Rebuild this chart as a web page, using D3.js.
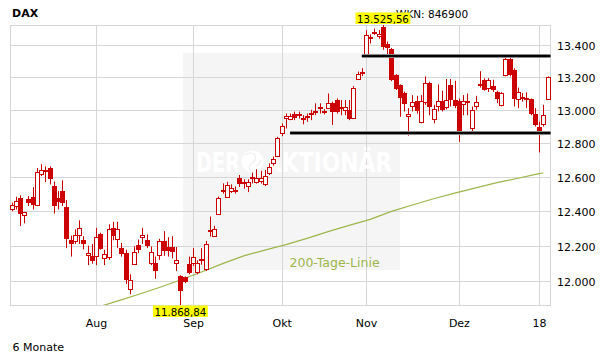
<!DOCTYPE html>
<html><head><meta charset="utf-8">
<script src="https://cdn.jsdelivr.net/npm/d3@7"></script>
<style>body{margin:0;background:#fff;}svg{display:block;}</style>
</head><body>
<svg id="c" width="611" height="364"></svg>
<script>
const dates = [
"2017-07-04","2017-07-05","2017-07-06","2017-07-07","2017-07-10","2017-07-11","2017-07-12","2017-07-13","2017-07-14","2017-07-17",
"2017-07-18","2017-07-19","2017-07-20","2017-07-21","2017-07-24","2017-07-25","2017-07-26","2017-07-27","2017-07-28","2017-07-31",
"2017-08-01","2017-08-02","2017-08-03","2017-08-04","2017-08-07","2017-08-08","2017-08-09","2017-08-10","2017-08-11","2017-08-14",
"2017-08-15","2017-08-16","2017-08-17","2017-08-18","2017-08-21","2017-08-22","2017-08-23","2017-08-24","2017-08-25","2017-08-28",
"2017-08-29","2017-08-30","2017-08-31","2017-09-01","2017-09-04","2017-09-05","2017-09-06","2017-09-07","2017-09-08","2017-09-11",
"2017-09-12","2017-09-13","2017-09-14","2017-09-15","2017-09-18","2017-09-19","2017-09-20","2017-09-21","2017-09-22","2017-09-25",
"2017-09-26","2017-09-27","2017-09-28","2017-09-29","2017-10-02","2017-10-04","2017-10-05","2017-10-06","2017-10-09","2017-10-10",
"2017-10-11","2017-10-12","2017-10-13","2017-10-16","2017-10-17","2017-10-18","2017-10-19","2017-10-20","2017-10-23","2017-10-24",
"2017-10-25","2017-10-26","2017-10-27","2017-10-30","2017-11-01","2017-11-02","2017-11-03","2017-11-06","2017-11-07","2017-11-08",
"2017-11-09","2017-11-10","2017-11-13","2017-11-14","2017-11-15","2017-11-16","2017-11-17","2017-11-20","2017-11-21","2017-11-22",
"2017-11-23","2017-11-24","2017-11-27","2017-11-28","2017-11-29","2017-11-30","2017-12-01","2017-12-04","2017-12-05","2017-12-06",
"2017-12-07","2017-12-08","2017-12-11","2017-12-12","2017-12-13","2017-12-14","2017-12-15","2017-12-18","2017-12-19","2017-12-20",
"2017-12-21","2017-12-22","2017-12-27","2017-12-28","2017-12-29","2018-01-02","2018-01-03","2018-01-04"];

const openV = [
12414,12430,12478,12380,12469,12484,12436,12617,12640,12654,
12544,12474,12519,12426,12233,12231,12264,12233,12148,12144,
12146,12270,12131,12135,12304,12240,12188,12160,11957,12098,
12206,12252,12237,12101,12101,12150,12227,12196,12196,12101,
12028,12024,12097,12101,12052,12126,12069,12287,12260,12383,
12526,12484,12518,12522,12595,12571,12549,12597,12569,12577,
12556,12625,12681,12723,12862,12952,12948,12978,12974,12954,
12966,12982,12995,13018,12995,13011,13040,13060,13015,12997,
13001,12954,13188,13232,13342,13449,13473,13457,13513,13404,
13377,13215,13152,13102,12962,13023,13054,12929,13046,13166,
12943,13025,13056,13015,13152,13060,13054,13036,13054,12893,
13025,13158,13184,13132,13146,13109,13027,13211,13312,13245,
13066,13076,13070,13066,12978,12899,12913,13066];

const highV = [
12450,12484,12492,12396,12488,12540,12652,12675,12662,12662,
12573,12517,12580,12465,12260,12295,12347,12256,12202,12212,
12304,12276,12179,12324,12339,12339,12217,12179,12040,12198,
12237,12304,12266,12198,12140,12241,12285,12250,12256,12194,
12035,12028,12140,12188,12119,12188,12229,12369,12316,12485,
12562,12571,12556,12544,12611,12586,12586,12625,12645,12636,
12641,12680,12721,12838,12918,12978,12978,12990,12990,12968,
12978,13001,13040,13040,13005,13100,13050,13070,13060,13060,
13060,13146,13235,13256,13493,13467,13503,13493,13525.56,13422,
13381,13219,13156,13112,13011,13090,13086,13090,13205,13172,
13031,13156,13117,13189,13189,13178,13069,13090,13100,13021,
13086,13237,13194,13194,13184,13117,13109,13328,13328,13255,
13136,13103,13107,13070,13011,12929,13031,13205];

const lowV = [
12400,12410,12314,12330,12430,12410,12430,12605,12570,12556,
12386,12410,12430,12188,12140,12212,12212,12180,12092,12100,
12092,12179,12092,12121,12233,12188,12140,11986,11928,12095,
12160,12212,12188,12092,12015,12121,12144,12140,12130,12059,
11868.84,11990,12040,12087,12040,12094,12058,12254,12254,12381,
12502,12478,12506,12502,12541,12531,12511,12562,12561,12561,
12546,12611,12666,12721,12842,12888,12938,12938,12948,12913,
12928,12938,12968,12978,12973,13005,12909,12978,12968,12968,
12938,12948,13184,13207,13338,13409,13464,13439,13370,13342,
13176,13122,12958,12991,12845,12991,12978,12919,13031,12968,
12919,12991,12991,13003,13021,13011,12808,12968,12968,12862,
13001,13136,13117,13109,13109,13041,13021,13205,13205,13021,
13011,13050,13011,12968,12899,12745,12899,13060];

const closeV = [
12437,12457,12384,12393,12450,12436,12629,12639,12630,12588,
12430,12455,12445,12240,12212,12264,12304,12212,12160,12117,
12250,12183,12154,12299,12256,12295,12154,12009,12009,12165,
12175,12264,12202,12165,12059,12231,12173,12171,12165,12119,
11946,11999,12047,12140,12102,12114,12214,12294,12300,12475,
12516,12552,12536,12513,12556,12561,12571,12589,12591,12591,
12605,12657,12704,12828,12902,12964,12964,12954,12966,12948,
12958,12972,12986,13003,12982,13040,12987,12987,13005,13015,
12948,13132,13219,13225,13463,13441,13483,13469,13390,13382,
13180,13128,13070,13034,12976,13046,12991,13054,13166,13015,
13005,13056,12999,13060,13060,13025,12862,13054,13046,12997,
13046,13150,13122,13184,13124,13064,13103,13312,13211,13064,
13109,13064,13060,12974,12909,12869,12972,13200];

// 200-Tage-Linie
const maDates = ["2017-08-01","2017-08-08","2017-08-15","2017-08-22","2017-08-29","2017-09-05","2017-09-12","2017-09-19",
"2017-09-26","2017-10-04","2017-10-11","2017-10-18","2017-10-25","2017-11-02","2017-11-09","2017-11-16","2017-11-23",
"2017-11-30","2017-12-07","2017-12-14","2017-12-21","2018-01-02","2018-01-03"];
const maValues = [11854,11890,11927,11966,12008,12053,12100,12144,12177,12208,12244,12282,12318,12353,12399,12436,12472,
12505,12536,12566,12592,12619,12623];

// Widerstand / Unterstützung
const levelStarts = ["2017-10-30","2017-10-05"];
const levelValues = [13333, 12860];

const yTicks = [12000,12200,12400,12600,12800,13000,13200,13400];
const monthTicks = ["2017-08-01","2017-09-01","2017-10-02","2017-11-01","2017-12-01","2018-01-02"];
const monthLabels = ["Aug","Sep","Okt","Nov","Dez","18"];

const title = "DAX", wkn = "WKN: 846900", period = "6 Monate", maLabel = "200-Tage-Linie";

// ---------------------------------------------------------------
const de = d3.formatLocale({decimal:",", thousands:".", grouping:[3], currency:["","€"]});
const fmtTick = de.format(",.0f"), fmtPrice = de.format(",.2f");

const L = 10, R = 550.5, T = 25, B = 305;
const RED = "#cc0000", GRID = "#d6d6d6", OLIVE = "#9cb64b";
const FONT = "'DejaVu Sans', Verdana, sans-serif";

const candles = dates.map((d,i)=>({d, o:openV[i], h:highV[i], l:lowV[i], c:closeV[i]}));
const hiMax = d3.max(highV), loMin = d3.min(lowV);

const x = d3.scalePoint().domain(dates).range([11.6, 547.5]);
const y = d3.scaleLog().domain([loMin, hiMax]).range([B, T]);

const svg = d3.select("#c");
svg.append("rect").attr("width",611).attr("height",364).attr("fill","#fff");

svg.append("defs").append("clipPath").attr("id","plot")
  .append("rect").attr("x",L).attr("y",T).attr("width",R-L).attr("height",B-T);

// watermark background
svg.append("rect").attr("x",183).attr("y",53).attr("width",217).attr("height",217).attr("fill","#f5f5f5");

// grid
const g = svg.append("g");
g.selectAll("line.h").data(yTicks).join("line")
  .attr("x1",L).attr("x2",R)
  .attr("y1",d=>Math.round(y(d))+0.5).attr("y2",d=>Math.round(y(d))+0.5)
  .attr("stroke",GRID).attr("stroke-width",1);
g.selectAll("line.v").data(monthTicks).join("line")
  .attr("x1",d=>Math.round(x(d))+0.5).attr("x2",d=>Math.round(x(d))+0.5)
  .attr("y1",T).attr("y2",B)
  .attr("stroke",GRID).attr("stroke-width",1);
svg.append("rect").attr("x",L+0.5).attr("y",T+0.5).attr("width",R-L-0.5).attr("height",B-T)
  .attr("fill","none").attr("stroke",GRID);

// watermark text
const wm = svg.append("g").attr("fill","#fff").attr("font-family","'DejaVu Sans Condensed','DejaVu Sans',sans-serif")
  .attr("font-weight","bold").attr("font-size",27);
wm.append("text").attr("x",196).attr("y",172).attr("textLength",44).attr("lengthAdjust","spacingAndGlyphs").text("DER");
wm.append("text").attr("x",265).attr("y",172).attr("textLength",127).attr("lengthAdjust","spacingAndGlyphs").text("AKTIONÄR");
wm.append("circle").attr("cx",252.5).attr("cy",161.5).attr("r",11);
wm.append("path").attr("d","M245,155 q6,-4 10,0 q2,5 -3,8 q-4,3 -2,8 M256,166 q4,-2 5,-6")
  .attr("fill","none").attr("stroke","#eeeeee").attr("stroke-width",1.2);

// 200-day line
svg.append("path").datum(maDates.map((d,i)=>[d,maValues[i]]))
  .attr("clip-path","url(#plot)")
  .attr("d", d3.line().x(d=>x(d[0])).y(d=>y(d[1])))
  .attr("fill","none").attr("stroke",OLIVE).attr("stroke-width",1.2);

// candles
const cg = svg.append("g");
const cx = d => Math.round(x(d.d));
cg.selectAll("line.wick").data(candles).join("line")
  .attr("x1",d=>cx(d)+0.5).attr("x2",d=>cx(d)+0.5)
  .attr("y1",d=>y(d.h)).attr("y2",d=>y(d.l))
  .attr("stroke",RED).attr("stroke-width",1);
cg.selectAll("rect.down").data(candles.filter(d=>d.c<d.o)).join("rect")
  .attr("x",d=>cx(d)-2).attr("width",5)
  .attr("y",d=>Math.round(y(d.o)))
  .attr("height",d=>Math.max(2, Math.round(y(d.c))-Math.round(y(d.o))))
  .attr("fill",RED);
cg.selectAll("rect.up").data(candles.filter(d=>d.c>=d.o)).join("rect")
  .attr("x",d=>cx(d)-1.5).attr("width",4)
  .attr("y",d=>Math.round(y(d.c))+0.5)
  .attr("height",d=>Math.max(1, Math.round(y(d.o))-Math.round(y(d.c))))
  .attr("fill","#fff").attr("stroke",RED).attr("stroke-width",1);

// support / resistance
const lv = svg.append("g");
levelStarts.forEach((s,i)=>{
  const yy = Math.round(y(levelValues[i]));
  lv.append("line").attr("x1",x(s)).attr("x2",R).attr("y1",yy).attr("y2",yy)
    .attr("stroke","#8a8a8a").attr("stroke-width",4);
  lv.append("line").attr("x1",x(s)).attr("x2",R).attr("y1",yy).attr("y2",yy)
    .attr("stroke","#000").attr("stroke-width",2);
});

// axis labels
svg.append("g").selectAll("text").data(yTicks).join("text")
  .attr("x",557).attr("y",d=>Math.round(y(d))+4.5)
  .attr("font-family",FONT).attr("font-size",11).attr("fill","#000")
  .text(d=>fmtTick(d));
svg.append("g").selectAll("text").data(monthTicks).join("text")
  .attr("x",d=>x(d)+0.5).attr("y",326.5).attr("text-anchor","middle")
  .attr("font-family",FONT).attr("font-size",11).attr("fill","#000")
  .text((d,i)=>monthLabels[i]);

svg.append("text").attr("x",12).attr("y",17).attr("font-family",FONT).attr("font-size",11)
  .attr("font-weight","bold").text(title);
svg.append("text").attr("x",396).attr("y",18).attr("font-family",FONT).attr("font-size",10.5).text(wkn);
svg.append("text").attr("x",12.5).attr("y",351).attr("font-family",FONT).attr("font-size",11).text(period);
svg.append("text").attr("x",289.5).attr("y",266.5).attr("font-family",FONT).attr("font-size",12.5)
  .attr("fill",OLIVE).text(maLabel);

// high / low flags
function flag(val, idx, top){
  const cxv = x(dates[idx]);
  const grp = svg.append("g");
  const r = grp.append("rect").attr("fill","#ffff00");
  const t = grp.append("text").attr("font-family",FONT).attr("font-size",10.2)
    .attr("text-anchor","middle").attr("x",cxv).attr("y", top ? 22.7 : 315.7).text(fmtPrice(val));
  const w = t.node().getComputedTextLength() + 3;
  r.attr("x",cxv - w/2).attr("width",w).attr("y", top ? 12.5 : 305.5).attr("height",11.5);
}
flag(hiMax, highV.indexOf(hiMax), true);
flag(loMin, lowV.indexOf(loMin), false);
</script>
</body></html>
